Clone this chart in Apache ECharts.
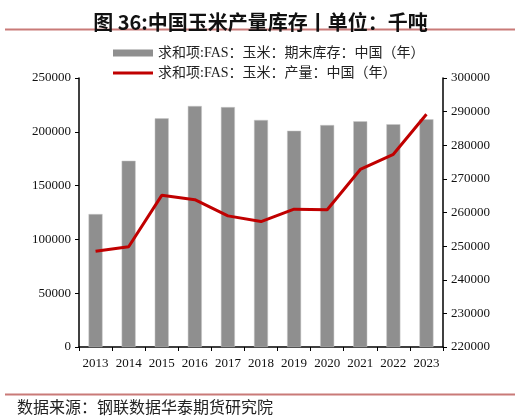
<!DOCTYPE html>
<html><head><meta charset="utf-8">
<script src="https://cdn.jsdelivr.net/npm/echarts@6/dist/echarts.min.js"></script>
<style>html,body{margin:0;padding:0;background:#fff}#c{width:521px;height:420px}</style>
</head><body><div id="c"></div>
<script>
var categories = ['2013','2014','2015','2016','2017','2018','2019','2020','2021','2022','2023'];
var stockValues = [123600,173100,212500,224000,223000,211000,201000,206300,209800,207000,211600];
var outputValues = [248500,249800,265100,263800,259000,257300,261000,260800,272800,277300,289200];
var stockName = '求和项:FAS：玉米：期末库存：中国（年）';
var outputName = '求和项:FAS：玉米：产量：中国（年）';
var titleText = '图 36:中国玉米产量库存丨单位：千吨';
var sourceText = '数据来源：钢联数据华泰期货研究院';

var chart = echarts.init(document.getElementById('c'));
var serif = '"Liberation Serif","Times New Roman","Noto Sans CJK SC",serif';
function plain(v){ return String(v); }
chart.setOption({
  animation: false,
  title: {
    text: titleText, left: 'center', top: 7,
    textStyle: {fontFamily: '"Noto Sans CJK SC",sans-serif', fontSize: 20, fontWeight: 'bold', color: '#111'}
  },
  graphic: [
    {type: 'line', shape: {x1: 5, y1: 29.5, x2: 515, y2: 29.5}, style: {stroke: '#c97a78', lineWidth: 2}},
    {type: 'line', shape: {x1: 5, y1: 394.5, x2: 515, y2: 394.5}, style: {stroke: '#c97a78', lineWidth: 2}},
    {type: 'text', left: 17, top: 399, style: {text: sourceText, font: '16px "Noto Sans CJK SC",sans-serif', fill: '#222'}}
  ],
  legend: [
    {data: [stockName], top: 41, left: 108, itemWidth: 40, itemHeight: 7, itemGap: 6, icon: 'rect',
      itemStyle: {borderWidth: 0, color: '#8f8f8f'},
      textStyle: {fontFamily: serif, fontSize: 14, color: '#222'}},
    {data: [outputName], top: 61, left: 108, itemWidth: 40, itemHeight: 3,
      icon: 'path://M0,0 L40,0 L40,3 L0,3 Z',
      textStyle: {fontFamily: serif, fontSize: 14, color: '#222'}}
  ],
  grid: {left: 79, right: 78, top: 78, bottom: 73},
  xAxis: {
    type: 'category', data: categories,
    axisLine: {lineStyle: {color: '#000', width: 1.5}},
    axisTick: {show: true, length: 4, lineStyle: {color: '#000'}},
    axisLabel: {fontFamily: serif, fontSize: 13, color: '#111', margin: 10, interval: 0}
  },
  yAxis: [
    {type: 'value', min: 0, max: 250000, interval: 50000, position: 'left',
      axisLine: {show: true, lineStyle: {color: '#000', width: 1.5}},
      axisTick: {show: true, length: 4, lineStyle: {color: '#000'}},
      splitLine: {show: false},
      axisLabel: {fontFamily: serif, fontSize: 13, color: '#111', margin: 8, formatter: plain}},
    {type: 'value', min: 220000, max: 300000, interval: 10000, position: 'right',
      axisLine: {show: true, lineStyle: {color: '#000', width: 1.5}},
      axisTick: {show: true, length: 4, lineStyle: {color: '#000'}},
      splitLine: {show: false},
      axisLabel: {fontFamily: serif, fontSize: 13, color: '#111', margin: 8, formatter: plain}}
  ],
  series: [
    {name: stockName, type: 'bar', data: stockValues, barWidth: 14, yAxisIndex: 0,
      itemStyle: {color: '#8f8f8f', borderColor: '#c8c8c8', borderWidth: 0.5}},
    {name: outputName, type: 'line', data: outputValues, yAxisIndex: 1, symbol: 'none',
      lineStyle: {color: '#c00000', width: 3}, itemStyle: {color: '#c00000'}}
  ]
});
</script></body></html>
